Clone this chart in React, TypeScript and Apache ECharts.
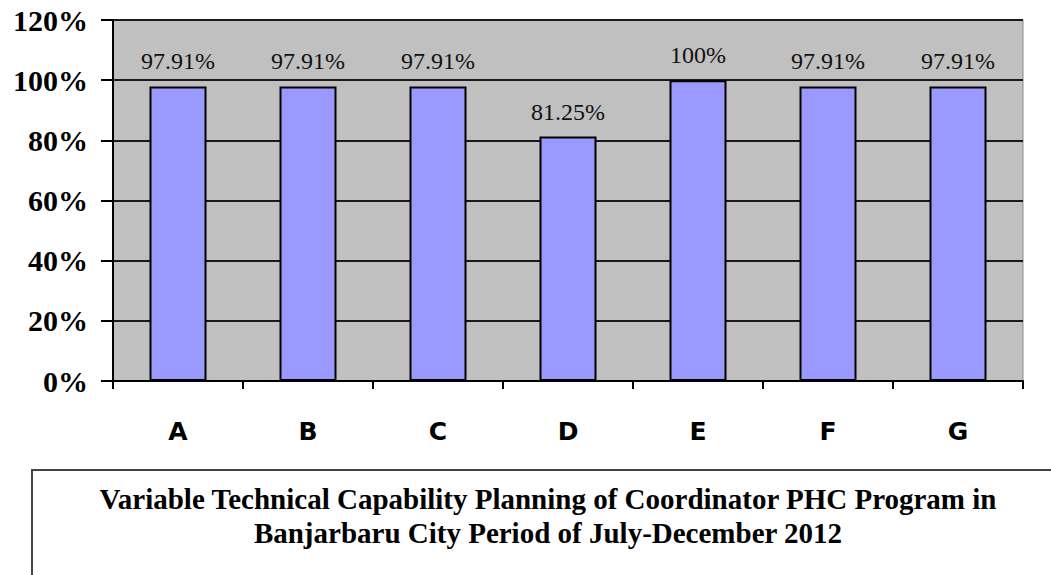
import React, { useEffect, useRef } from "react";
import * as echarts from "echarts";

const categories = ["A", "B", "C", "D", "E", "F", "G"];
const values = [97.91, 97.91, 97.91, 81.25, 100, 97.91, 97.91];
const yTicks = [0, 20, 40, 60, 80, 100, 120];
const titleLines = [
  "Variable Technical Capability Planning of Coordinator PHC Program in",
  "Banjarbaru City Period of July-December 2012",
];

export default function App() {
  const ref = useRef<HTMLDivElement>(null);
  useEffect(() => {
    document.body.style.margin = "0";
    const chart = echarts.init(ref.current!, undefined, { renderer: "svg" });
    chart.setOption({
      animation: false,
      backgroundColor: "#ffffff",
      grid: {
        left: 113,
        right: 28,
        top: 20,
        bottom: 194,
        show: true,
        backgroundColor: "#C0C0C0",
        borderColor: "#8a8a8a",
        borderWidth: 1,
      },
      xAxis: {
        type: "category",
        data: categories,
        boundaryGap: true,
        axisLine: { show: true, lineStyle: { color: "#000", width: 2 } },
        axisTick: { show: true, length: 8, lineStyle: { color: "#000", width: 2 } },
        axisLabel: {
          margin: 38,
          fontFamily: "DejaVu Sans",
          fontWeight: "bold",
          fontSize: 25,
          color: "#000",
        },
        splitLine: { show: false },
      },
      yAxis: {
        type: "value",
        min: yTicks[0],
        max: yTicks[yTicks.length - 1],
        interval: 20,
        axisLine: { show: true, lineStyle: { color: "#000", width: 2 } },
        axisTick: { show: true, length: 12, lineStyle: { color: "#000", width: 2 } },
        axisLabel: {
          margin: 25,
          formatter: "{value}%",
          fontFamily: "Liberation Serif",
          fontWeight: "bold",
          fontSize: 30,
          color: "#000",
        },
        splitLine: { show: true, lineStyle: { color: "#1a1a1a", width: 2 } },
      },
      series: [
        {
          type: "bar",
          data: values,
          barWidth: 57,
          itemStyle: { color: "#9999FF", borderColor: "#000", borderWidth: 2 },
          label: {
            show: true,
            position: "top",
            distance: 13,
            formatter: (p: any) => `${p.value}%`,
            fontFamily: "Liberation Serif",
            fontSize: 24,
            color: "#111",
          },
        },
      ],
      graphic: [
        {
          type: "rect",
          shape: { x: 32, y: 470, width: 1040, height: 200 },
          style: { fill: "#ffffff", stroke: "#444", lineWidth: 2 },
        },
        {
          type: "text",
          x: 548,
          y: 499,
          style: {
            text: titleLines[0],
            font: "bold 29px 'Liberation Serif'",
            fill: "#000",
            textAlign: "center",
            textVerticalAlign: "middle",
          },
        },
        {
          type: "text",
          x: 548,
          y: 533,
          style: {
            text: titleLines[1],
            font: "bold 29px 'Liberation Serif'",
            fill: "#000",
            textAlign: "center",
            textVerticalAlign: "middle",
          },
        },
      ],
    });
    return () => chart.dispose();
  }, []);
  return <div ref={ref} style={{ width: 1051, height: 575 }} />;
}
